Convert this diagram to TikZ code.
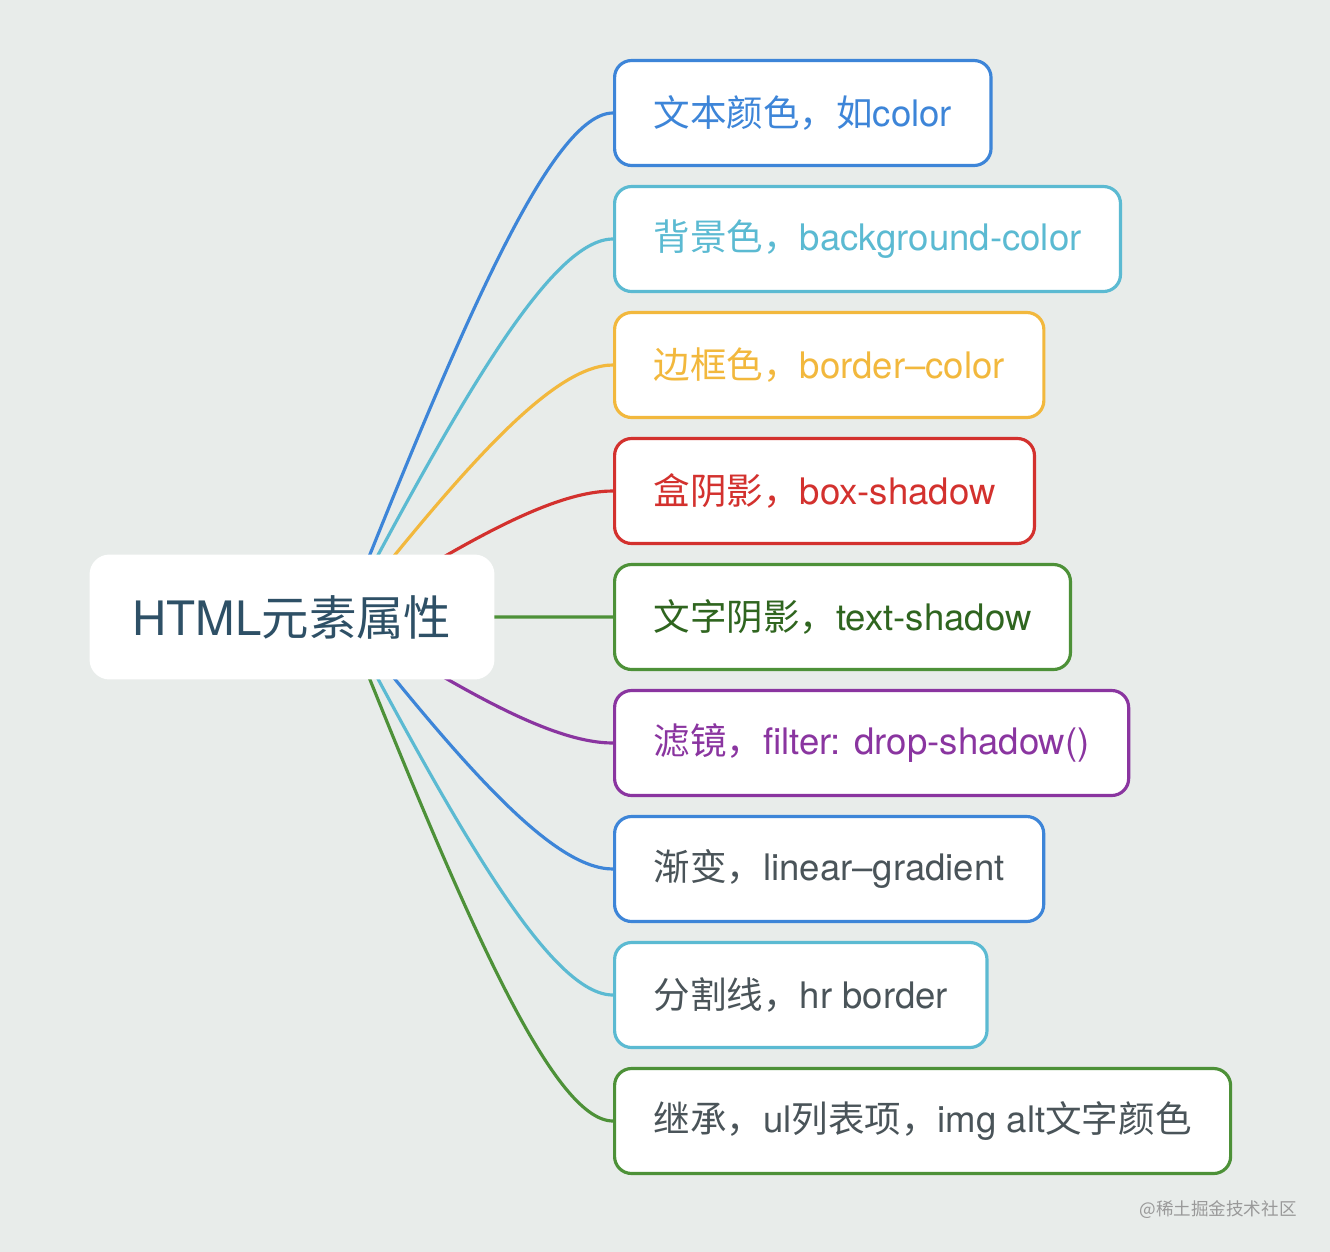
\documentclass[tikz,border=0pt]{standalone}
\usepackage{fontspec}
\setmainfont{TeX Gyre Heros}
\newfontfamily\cjk{Noto Sans CJK SC}
\usetikzlibrary{calc}

\definecolor{bgcol}{HTML}{E8ECEA}
\definecolor{cBlue}{HTML}{3D85D8}
\definecolor{cCyan}{HTML}{5BBAD2}
\definecolor{cYellow}{HTML}{F2B83D}
\definecolor{cRed}{HTML}{D3312E}
\definecolor{cGreen}{HTML}{4D9138}
\definecolor{cGreenText}{HTML}{2F651F}
\definecolor{cPurple}{HTML}{8A35A0}
\definecolor{cGray}{HTML}{4A5459}
\definecolor{rootText}{HTML}{2E5066}

\begin{document}
\begin{tikzpicture}[
    x=0.02cm, y=-0.02cm,
    child/.style={draw, fill=white, line width=1.8pt, rounded corners=0.34cm,
        anchor=west, minimum height=2.1cm, inner xsep=0.78cm,
        font=\fontsize{20.8}{24}\selectfont},
    rootbox/.style={fill=white, rounded corners=0.4cm, minimum width=8.1cm,
        minimum height=2.5cm, text=rootText, font=\fontsize{27}{32}\selectfont},
    link/.style={line width=1.8pt}
]

% Background
\fill[bgcol] (0,0) rectangle (1330,1252);

% Property boxes
\foreach \i/\y/\c/\t/\txt in {
    1/113/cBlue/cBlue/{{\cjk 文本颜色，如}color},
    2/239/cCyan/cCyan/{{\cjk 背景色，}background-color},
    3/365/cYellow/cYellow/{{\cjk 边框色，}border–color},
    4/491/cRed/cRed/{{\cjk 盒阴影，}box-shadow},
    5/617/cGreen/cGreenText/{{\cjk 文字阴影，}text-shadow},
    6/743/cPurple/cPurple/{{\cjk 滤镜，}filter: drop-shadow()},
    7/869/cBlue/cGray/{{\cjk 渐变，}linear–gradient},
    8/995/cCyan/cGray/{{\cjk 分割线，}hr border},
    9/1121/cGreen/cGray/{{\cjk 继承，}ul{\cjk 列表项，}img alt{\cjk 文字颜色}}}
    \node[child, draw=\c, text=\t] (c\i) at (613,\y) {\txt};

% Curves from the centre
\coordinate (hub) at (345,617);
\coordinate (kA) at (465,617);
\coordinate (kB) at (553,617);
\foreach \i/\c in {1/cBlue, 2/cCyan, 3/cYellow, 4/cRed, 5/cGreen,
                   6/cPurple, 7/cBlue, 8/cCyan, 9/cGreen}
    \draw[link, \c] (hub) .. controls ($(kA)!0.6!(kA |- c\i.west)$)
        and (kB |- c\i.west) .. (c\i.west);

% Root
\node[rootbox] (root) at (292,617) {HTML{\cjk 元素属性}};

% Watermark
\node[text=gray!80, font=\cjk\fontsize{10}{12}\selectfont] (mark) at (1218,1210) {@稀土掘金技术社区};

\end{tikzpicture}
\end{document}
